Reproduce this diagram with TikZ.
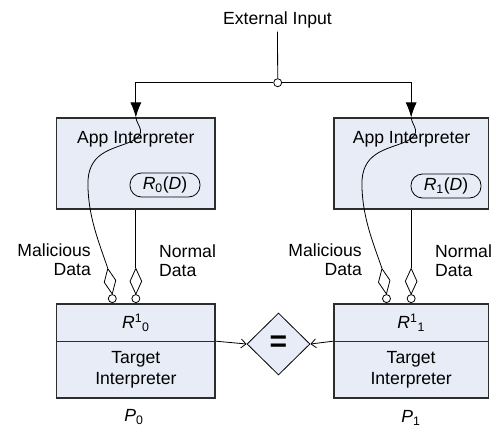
\documentclass[tikz,border=0pt]{standalone}
\usepackage{fontspec}
\setmainfont{Liberation Sans}
\usetikzlibrary{arrows.meta,shapes.geometric}

\definecolor{boxfill}{RGB}{231,236,247}
\definecolor{edge}{RGB}{45,45,45}

\begin{document}
\begin{tikzpicture}[x=1pt,y=-1pt,
  every node/.style={font=\fontsize{17.6}{21}\selectfont},
  panel/.style={draw=edge, line width=1.1pt, fill=boxfill, inner sep=0pt},
  pill/.style={draw=black, line width=0.8pt, rounded corners=11.5pt,
    minimum width=70pt, minimum height=24pt, inner sep=0pt},
  gate/.style={diamond, draw=black, line width=0.8pt, fill=white,
    minimum width=12pt, minimum height=26pt, inner sep=0pt},
  port/.style={circle, draw=black, line width=0.8pt, fill=white,
    minimum size=8pt, inner sep=0pt},
  wire/.style={draw=black, line width=0.8pt},
  feed/.style={wire, -{Latex[length=15pt,width=11pt]}},
  barb/.style={wire, -{Straight Barb[length=5pt,width=9pt]}},
  lbl/.style={inner sep=0pt, font=\fontsize{17.6}{19}\selectfont}
]
\useasboundingbox (0,0) rectangle (494,431);

% source and junction
\node (ext) at (277.5,20) {External Input};
\node[port] (jc) at (277.7,82.7) {};

% application interpreters
\node[panel, minimum width=158.3pt, minimum height=91pt] (app0) at (135.85,163.5) {};
\node[panel, minimum width=154.3pt, minimum height=91pt] (app1) at (411.15,163.5) {};
\node (app0t) at (135.85,139) {App Interpreter};
\node (app1t) at (411.5,139) {App Interpreter};
\node[pill] (r0) at (165,185) {\textit{R}\textsubscript{0}(\textit{D})};
\node[pill] (r1) at (446,186) {\textit{R}\textsubscript{1}(\textit{D})};

% target interpreters
\node[panel, minimum width=158.3pt, minimum height=37.7pt] (rr0) at (135.85,322.85)
  {\textit{R}\textsuperscript{1}\textsubscript{0}};
\node[panel, minimum width=158.3pt, minimum height=56.3pt, align=center] (tt0) at (135.85,369.85)
  {Target\\Interpreter};
\node[panel, minimum width=154.3pt, minimum height=37.7pt] (rr1) at (411.15,322.85)
  {\textit{R}\textsuperscript{1}\textsubscript{1}};
\node[panel, minimum width=154.3pt, minimum height=56.3pt, align=center] (tt1) at (411.15,369.85)
  {Target\\Interpreter};

% comparison
\node[diamond, draw=black, line width=0.8pt, fill=boxfill, minimum width=63pt,
  minimum height=62pt, inner sep=0pt] (eq) at (278.5,344)
  {\fontsize{30}{30}\selectfont\bfseries =};

% program labels
\node (p0) at (134,417) {\textit{P}\textsubscript{0}};
\node (p1) at (411,418) {\textit{P}\textsubscript{1}};

% data labels
\node[lbl, align=right, anchor=east] (mal0) at (91,260) {Malicious\\Data};
\node[lbl, align=left, anchor=west] (nor0) at (159,261) {Normal\\Data};
\node[lbl, align=right, anchor=east] (mal1) at (362,260) {Malicious\\Data};
\node[lbl, align=left, anchor=west] (nor1) at (435,261) {Normal\\Data};

% input distribution
\draw[wire] (ext.south) -- (jc.north);
\draw[feed] (jc.west) -| (app0.north);
\draw[feed] (jc.east) -| (app1.north);

% data channels
\node[gate, rotate=10] (md0) at (110,281.3) {};
\node[gate] (nd0) at (135.85,281.3) {};
\node[port] (mc0) at (112.3,298.6) {};
\node[port] (nc0) at (135.85,298.6) {};
\node[gate, rotate=10] (md1) at (384.2,281.3) {};
\node[gate] (nd1) at (411.15,281.3) {};
\node[port] (mc1) at (386.5,298.6) {};
\node[port] (nc1) at (411.15,298.6) {};

\draw[wire] (app0.north) .. controls (137,126) and (148,133) .. (132,141)
  .. controls (116,149) and (90,150) .. (88,180)
  .. controls (87,215) and (100,245) .. (md0.north);
\draw[wire] (app1.north) .. controls (412,126) and (423,133) .. (407,141)
  .. controls (391,149) and (364,150) .. (362,180)
  .. controls (361,215) and (374,245) .. (md1.north);
\draw[wire] (app0.south) -- (nd0.north);
\draw[wire] (app1.south) -- (nd1.north);

% results into the comparison
\draw[barb] (tt0.north east) -- (eq.west);
\draw[barb] (tt1.north west) -- (eq.east);
\end{tikzpicture}
\end{document}
